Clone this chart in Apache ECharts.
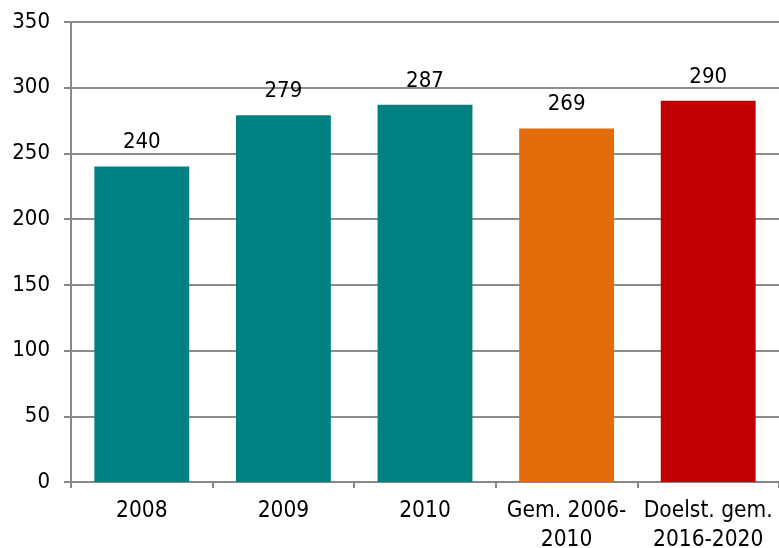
<!DOCTYPE html>
<html><head><meta charset="utf-8">
<script src="https://cdn.jsdelivr.net/npm/echarts@6/dist/echarts.min.js"></script>
<style>html,body{margin:0;padding:0;background:#fff}#c{width:779px;height:548px}</style>
</head><body><div id="c"></div>
<script>
var categories = ['2008', '2009', '2010', 'Gem. 2006-\n2010', 'Doelst. gem.\n2016-2020'];
var values = [240, 279, 287, 269, 290];
var barColors = ['#008080', '#008080', '#008080', '#E46C0A', '#C00000'];
var yTicks = {min: 0, max: 350, interval: 50};

var chart = echarts.init(document.getElementById('c'));
var font = '"DejaVu Sans Condensed", "DejaVu Sans", sans-serif';
chart.setOption({
  animation: false,
  grid: {left: 71, right: 0, top: 22, bottom: 66, containLabel: false, outerBoundsMode: 'none'},
  xAxis: {
    type: 'category', data: categories,
    axisLine: {lineStyle: {color: '#888', width: 2}},
    axisTick: {show: true, length: 6, lineStyle: {color: '#888', width: 2}},
    axisLabel: {color: '#000', fontSize: 22.5, fontFamily: font, margin: 15, lineHeight: 29, interval: 0}
  },
  yAxis: {
    type: 'value', min: yTicks.min, max: yTicks.max, interval: yTicks.interval,
    axisLine: {show: true, lineStyle: {color: '#888', width: 2}},
    axisTick: {show: true, length: 7, lineStyle: {color: '#888', width: 2}},
    splitLine: {lineStyle: {color: '#8c8c8c', width: 2}},
    axisLabel: {color: '#000', fontSize: 22, fontFamily: font, margin: 21}
  },
  series: [{
    type: 'bar', barWidth: '67%',
    data: values.map(function (v, i) { return {value: v, itemStyle: {color: barColors[i]}}; }),
    label: {show: true, position: 'top', distance: 13, color: '#000', fontSize: 22, fontFamily: font}
  }]
});
</script></body></html>
